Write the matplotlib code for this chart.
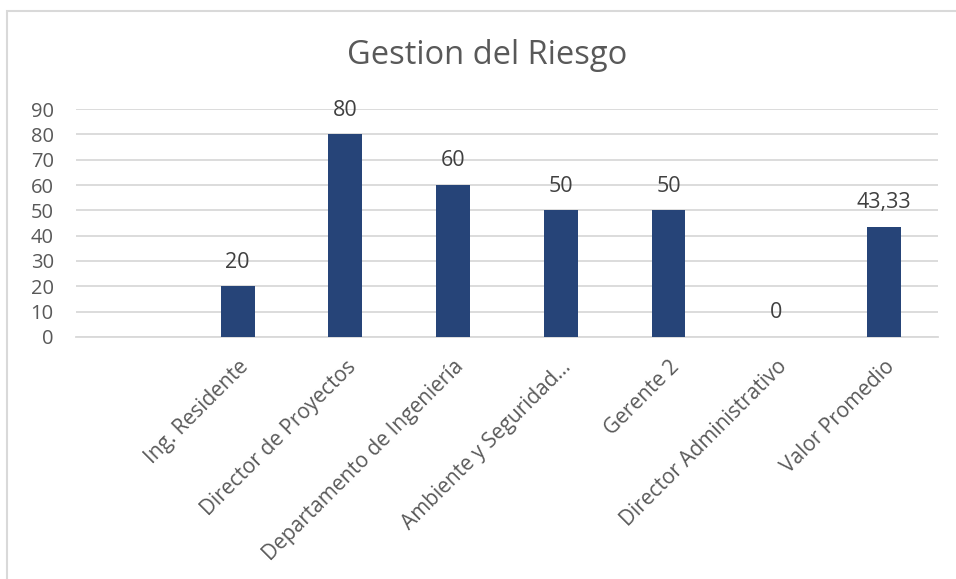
import matplotlib.pyplot as plt
from matplotlib.patches import Rectangle
import numpy as np

# first slot is an empty category (no label, no value)
categories = ["", "Ing. Residente", "Director de Proyectos",
              "Departamento de Ingeniería", "Ambiente y Seguridad...",
              "Gerente 2", "Director Administrativo", "Valor Promedio"]
values = [np.nan, 20, 80, 60, 50, 50, 0, 43.33]
yticks = list(range(0, 100, 10))

BAR = "#264478"
GRID = "#d9d9d9"
TXT = "#595959"

plt.rcParams['font.family'] = ['Open Sans', 'DejaVu Sans']

fig = plt.figure(figsize=(9.56, 5.79), dpi=100)
ax = fig.add_axes([0.0795, 0.418, 0.9015, 0.3937])

# chart frame, only top and left edges fall inside the image
fig.patches.append(Rectangle((7 / 956, -0.1), 1.1, 1.1 - 11 / 579,
                             transform=fig.transFigure, fill=False,
                             edgecolor=GRID, linewidth=1.5))

x = np.arange(len(categories))
bars = ax.bar(x, values, width=0.315, color=BAR, zorder=3)

for xi, v in zip(x, values):
    if np.isnan(v):
        continue
    txt = f"{v:g}".replace(".", ",")
    if v != int(v):
        txt = f"{v:.2f}".replace(".", ",")
    ax.annotate(txt, (xi, v), xytext=(0, 17.5), textcoords="offset points",
                ha="center", va="center", fontsize=15.5, color="#404040")

ax.set_xlim(-0.5, len(categories) - 0.5)
ax.set_ylim(0, 90)
ax.set_yticks(yticks)
ax.set_xticks(x, categories, rotation=45, ha="right", rotation_mode="anchor")
ax.tick_params(axis="x", length=0, pad=14, labelsize=15, labelcolor=TXT)
ax.tick_params(axis="y", length=0, pad=16, labelsize=14.5, labelcolor=TXT)
ax.grid(axis="y", color=GRID, linewidth=1.3, zorder=0)
for s in ["top", "right", "left"]:
    ax.spines[s].set_visible(False)
ax.spines["bottom"].set_color(GRID)
ax.spines["bottom"].set_linewidth(1.3)

fig.text(487 / 956, 1 - 55 / 579, "Gestion del Riesgo", ha="center",
         va="center", fontsize=23.5, color=TXT)

fig.savefig("out.png", dpi=100)
